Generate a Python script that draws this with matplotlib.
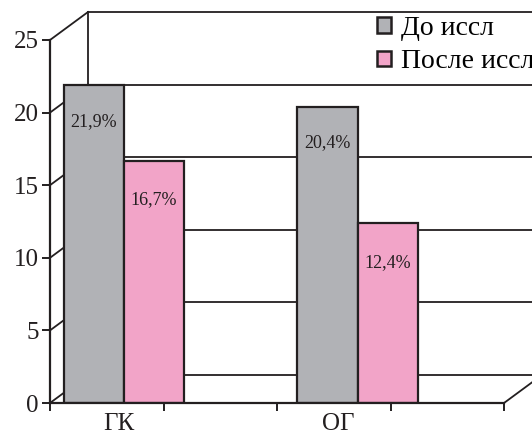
import matplotlib
matplotlib.use("Agg")
import matplotlib.pyplot as plt
import matplotlib.transforms as mtransforms
from matplotlib.patches import Rectangle
from matplotlib.lines import Line2D

# Data
categories = ["ГК", "ОГ"]
series_names = ["До иссл", "После иссл"]
before_vals = [21.9, 20.4]
after_vals = [16.7, 12.4]
value_labels_before = ["21,9%", "20,4%"]
value_labels_after = ["16,7%", "12,4%"]
y_ticks = [0, 5, 10, 15, 20, 25]

# Style
GREY = "#B1B2B6"
PINK = "#F2A4C8"
INK = "#231F20"
FONT = ["Liberation Serif", "DejaVu Serif"]
plt.rcParams["font.family"] = FONT

W, H, DPI = 532, 430, 100
fig = plt.figure(figsize=(W / DPI, H / DPI), dpi=DPI)

# Front plane of the 3-D style plot: px 50..504 horizontally, 403..40 vertically
left, right, bottom, top = 50, 504, 403, 40
ax = fig.add_axes([left / W, (H - bottom) / H, (right - left) / W, (bottom - top) / H])
ax.set_xlim(0, 4)
ax.set_ylim(0, 25)
ax.patch.set_visible(False)
for s in ["top", "right"]:
    ax.spines[s].set_visible(False)
for s in ["left", "bottom"]:
    ax.spines[s].set_color(INK)
    ax.spines[s].set_linewidth(1.6)
    ax.spines[s].set_zorder(6)

# Depth offset of the back wall (38 px right, 28 px up)
depth = mtransforms.ScaledTranslation(38 / DPI, 28 / DPI, fig.dpi_scale_trans)
back = ax.transData + depth
pix = mtransforms.IdentityTransform()

lw_grid = 1.3
# Back wall gridlines and edges
for v in y_ticks:
    ax.plot([0, 4.5], [v, v], transform=back, color=INK, lw=lw_grid, zorder=1, clip_on=False)
ax.plot([0, 0], [0, 25], transform=back, color=INK, lw=lw_grid, zorder=1, clip_on=False)


def depth_edge(x, y):
    """Line from a point on the front plane to the same point on the back wall."""
    x0, y0 = ax.transData.transform((x, y))
    x1, y1 = back.transform((x, y))
    ax.add_line(Line2D([x0, x1], [y0, y1], transform=pix, color=INK,
                       lw=lw_grid, zorder=1, clip_on=False))


# Side wall diagonals at each tick, plus the floor's right edge
for v in y_ticks:
    depth_edge(0, v)
depth_edge(4, 0)

# Bars
group_pos = [0.65, 2.71]
bw = 0.53
for i, g in enumerate(group_pos):
    ax.add_patch(Rectangle((g - bw, 0), bw, before_vals[i], facecolor=GREY,
                           edgecolor=INK, lw=1.6, zorder=4))
    ax.add_patch(Rectangle((g, 0), bw, after_vals[i], facecolor=PINK,
                           edgecolor=INK, lw=1.6, zorder=4))
    ax.text(g - bw / 2, before_vals[i] - 2.5, value_labels_before[i], ha="center",
            va="center", fontsize=13, color=INK, zorder=5)
    ax.text(g + bw / 2, after_vals[i] - 2.7, value_labels_after[i], ha="center",
            va="center", fontsize=13, color=INK, zorder=5)

# Axes ticks
ax.set_yticks(y_ticks)
ax.set_yticklabels([str(v) for v in y_ticks], fontsize=18, color=INK)
ax.set_xticks([0, 1, 2, 3, 4])
ax.set_xticklabels([])
ax.tick_params(axis="both", direction="out", length=6, width=1.4, color=INK)
ax.tick_params(axis="y", pad=2)

label_x = [0.61, 2.54]
for lx, name in zip(label_x, categories):
    ax.text(lx, -0.7, name, ha="center", va="top", fontsize=18, color=INK,
            clip_on=False)

# Legend
handles = [Rectangle((0, 0), 1, 1, facecolor=GREY, edgecolor=INK, lw=1.8),
           Rectangle((0, 0), 1, 1, facecolor=PINK, edgecolor=INK, lw=1.8)]
leg = fig.legend(handles, series_names, loc="upper left",
                 bbox_to_anchor=(377 / W, 1 - 16 / H), frameon=False,
                 fontsize=20, handlelength=0.5, handleheight=0.5,
                 handletextpad=0.36, labelspacing=0.3, borderaxespad=0,
                 borderpad=0)

fig.savefig("out.png", dpi=DPI)
